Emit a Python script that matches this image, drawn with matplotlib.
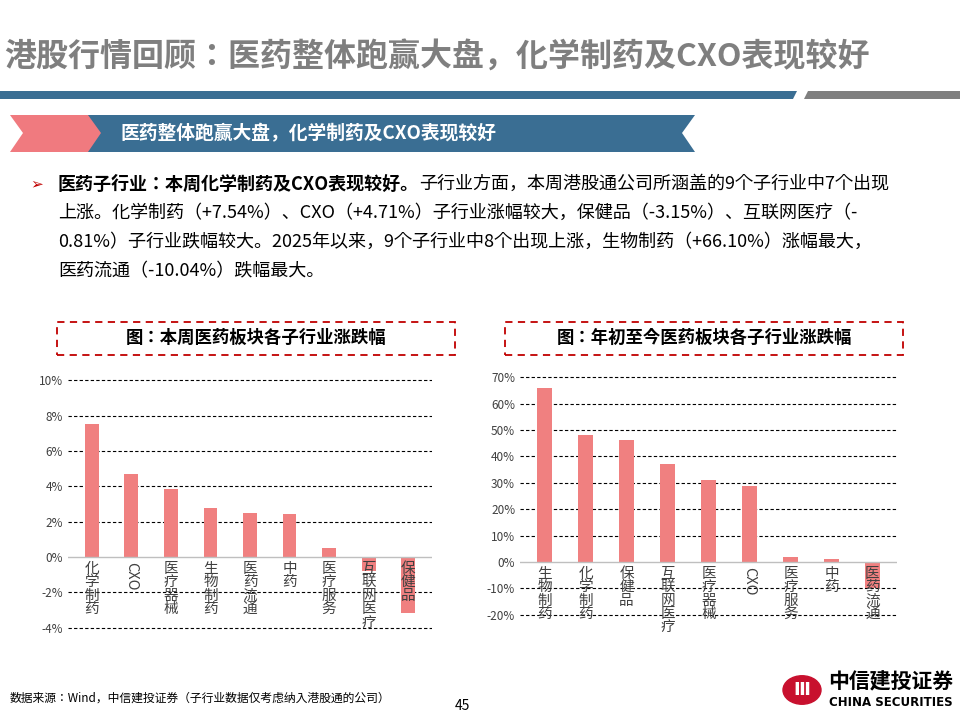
import matplotlib
matplotlib.use("Agg")
import matplotlib.pyplot as plt
from matplotlib.patches import Polygon, Rectangle, Circle
from matplotlib.ticker import FuncFormatter

plt.rcParams["font.family"] = ["Noto Sans CJK JP", "DejaVu Sans"]

W, H = 960, 720

week_cats = ["化学制药", "CXO", "医疗器械", "生物制药", "医药流通", "中药", "医疗服务", "互联网医疗", "保健品"]
week_vals = [7.54, 4.71, 3.85, 2.80, 2.50, 2.45, 0.50, -0.81, -3.15]
week_ticks = [-4, -2, 0, 2, 4, 6, 8, 10]

ytd_cats = ["生物制药", "化学制药", "保健品", "互联网医疗", "医疗器械", "CXO", "医疗服务", "中药", "医药流通"]
ytd_vals = [66.10, 48.3, 46.4, 37.2, 30.9, 28.7, 2.0, 1.2, -10.04]
ytd_ticks = [-20, -10, 0, 10, 20, 30, 40, 50, 60, 70]

BAR = "#f08080"
BLUE = "#3a6e93"

fig = plt.figure(figsize=(9.6, 7.2), dpi=100)


def fx(x):
    return x / W


def fy(y):
    return 1 - y / H


def poly(pts, color):
    fig.patches.append(Polygon([(fx(x), fy(y)) for x, y in pts], closed=True,
                               transform=fig.transFigure, color=color, lw=0))


# header
fig.text(fx(4), fy(58), "港股行情回顾：医药整体跑赢大盘，化学制药及CXO表现较好",
         fontsize=23, fontweight="bold", color="#7f7f7f", va="center")
poly([(0, 91), (797, 91), (793, 99), (0, 99)], BLUE)
poly([(808, 91), (960, 91), (960, 99), (804, 99)], "#7f7f7f")
poly([(10, 115), (95, 115), (108, 133), (95, 152), (10, 152), (23, 133)], "#f07a7f")
poly([(88, 115), (695, 115), (682, 133), (695, 152), (88, 152), (101, 133)], BLUE)
fig.text(fx(120), fy(134), "医药整体跑赢大盘，化学制药及CXO表现较好",
         fontsize=13.5, fontweight="bold", color="white", va="center")

# paragraph
fig.text(fx(30), fy(184), "➢", fontsize=11, color="#c00000", va="center",
         family="DejaVu Sans")
t1 = fig.text(fx(58), fy(184), "医药子行业：本周化学制药及CXO表现较好。", fontsize=13,
              fontweight="bold", va="center")
fig.canvas.draw()
bb = t1.get_window_extent()
fig.text(bb.x1 / W, fy(184), "子行业方面，本周港股通公司所涵盖的9个子行业中7个出现",
         fontsize=13, va="center")
lines = ["上涨。化学制药（+7.54%）、CXO（+4.71%）子行业涨幅较大，保健品（-3.15%）、互联网医疗（-",
         "0.81%）子行业跌幅较大。2025年以来，9个子行业中8个出现上涨，生物制药（+66.10%）涨幅最大，",
         "医药流通（-10.04%）跌幅最大。"]
for i, s in enumerate(lines):
    fig.text(fx(58), fy(213 + 29 * i), s, fontsize=13, va="center")


def chart(x0, x1, y_top, y_bot, ymin, ymax, ticks, cats, vals, title, bx0, bx1):
    fig.patches.append(Rectangle((fx(bx0), fy(355)), fx(bx1 - bx0), (355 - 322) / H,
                                 transform=fig.transFigure, fill=False, ec="#c00000",
                                 ls=(0, (4, 3)), lw=1.3))
    fig.text(fx((bx0 + bx1) / 2), fy(338), title, fontsize=12.5, fontweight="bold",
             ha="center", va="center")
    ax = fig.add_axes([fx(x0), fy(y_bot), fx(x1 - x0), (y_bot - y_top) / H])
    ax.bar(range(len(cats)), vals, width=0.35, color=BAR, zorder=2)
    pad = (ymax - ymin) * 0.01
    ax.set_ylim(ymin - pad, ymax + pad)
    ax.set_xlim(-0.6, len(cats) - 0.4)
    ax.set_yticks(ticks)
    ax.yaxis.set_major_formatter(FuncFormatter(lambda v, p: f"{v:.0f}%"))
    ax.tick_params(axis="y", length=0, labelsize=8.5, labelcolor="#404040")
    ax.set_xticks([])
    for t in ticks:
        if t != 0:
            ax.axhline(t, color="black", ls=(0, (3, 2)), lw=0.8, zorder=1)
    ax.axhline(0, color="#bfbfbf", lw=1, zorder=3)
    for s in ax.spines.values():
        s.set_visible(False)
    off = (ymax - ymin) * 0.02
    for i, c in enumerate(cats):
        if c == "CXO":
            ax.text(i, -off, c, rotation=-90, ha="center", va="top", fontsize=10.5,
                    color="#404040", zorder=4)
        else:
            ax.text(i, -off, "\n".join(c), ha="center", va="top", fontsize=10.5,
                    color="#404040", linespacing=0.95, zorder=4)


chart(68, 432, 378, 630, -4, 10, week_ticks, week_cats, week_vals,
      "图：本周医药板块各子行业涨跌幅", 57, 455)
chart(520, 897, 375, 617, -20, 70, ytd_ticks, ytd_cats, ytd_vals,
      "图：年初至今医药板块各子行业涨跌幅", 505, 903)

# footer
fig.text(fx(10), fy(698), "数据来源：Wind，中信建投证券（子行业数据仅考虑纳入港股通的公司）",
         fontsize=8.5, va="center")
fig.text(fx(462), fy(706), "45", fontsize=10, ha="center", va="center")
fig.patches.append(Circle((fx(802), fy(690)), 19 / W, transform=fig.transFigure,
                          color="#c8102e"))
fig.text(fx(802), fy(690), "Ⅲ", fontsize=13, color="white", ha="center", va="center",
         fontweight="bold", family="DejaVu Sans")
fig.text(fx(828), fy(682), "中信建投证券", fontsize=15, fontweight="bold", va="center")
fig.text(fx(829), fy(703), "CHINA SECURITIES", fontsize=8.5, fontweight="bold",
         va="center", family="DejaVu Sans")

fig.savefig("out.png", dpi=100)
